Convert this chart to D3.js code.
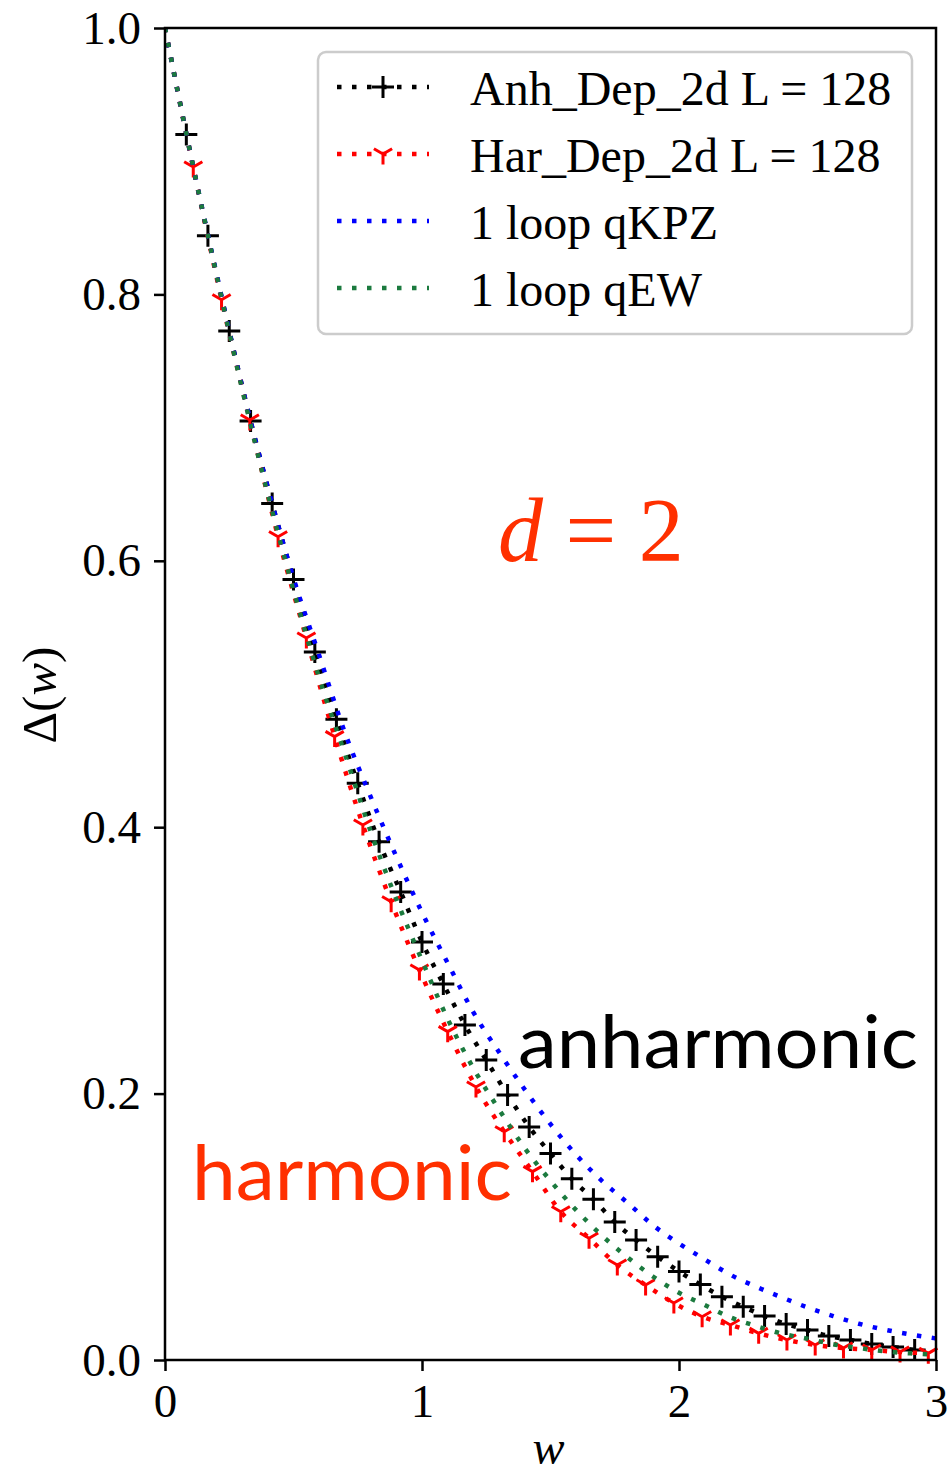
<!DOCTYPE html>
<html>
<head>
<meta charset="utf-8">
<script src="https://cdn.jsdelivr.net/npm/d3@7"></script>
<style>
  body { margin: 0; background: #fff; }
  svg { display: block; }
</style>
</head>
<body>
<svg id="chart" width="948" height="1479"></svg>
<script>
// values
const anhW = [0, 0.083, 0.167, 0.25, 0.333, 0.417, 0.5, 0.583, 0.667, 0.75, 0.833, 0.917, 1.0, 1.083, 1.167, 1.25, 1.333, 1.417, 1.5, 1.583, 1.667, 1.75, 1.833, 1.917, 2.0, 2.083, 2.167, 2.25, 2.333, 2.417, 2.5, 2.583, 2.667, 2.75, 2.833, 2.917]
const anhD = [1.0, 0.920, 0.844, 0.7725, 0.705, 0.643, 0.586, 0.5315, 0.481, 0.433, 0.389, 0.3514, 0.3138, 0.2823, 0.2515, 0.2252, 0.199, 0.175, 0.155, 0.136, 0.1206, 0.1036, 0.090, 0.0775, 0.0665, 0.0566, 0.0475, 0.040, 0.033, 0.027, 0.0225, 0.018, 0.015, 0.012, 0.0098, 0.0075]

const harW = [0, 0.11, 0.22, 0.33, 0.44, 0.55, 0.66, 0.77, 0.88, 0.99, 1.10, 1.21, 1.32, 1.43, 1.54, 1.65, 1.76, 1.87, 1.98, 2.09, 2.20, 2.31, 2.42, 2.53, 2.64, 2.75, 2.86, 2.97]
const harD = [1.0, 0.8956, 0.796, 0.7057, 0.618, 0.542, 0.468, 0.4017, 0.344, 0.2928, 0.2465, 0.205, 0.1714, 0.1414, 0.1113, 0.0914, 0.0713, 0.0563, 0.0428, 0.0325, 0.0263, 0.020, 0.015, 0.0113, 0.009, 0.0075, 0.006, 0.005]

const loopW = [0, 0.1, 0.2, 0.3, 0.4, 0.5, 0.6, 0.7, 0.8, 0.9, 1.0, 1.1, 1.2, 1.3, 1.4, 1.5, 1.6, 1.7, 1.8, 1.9, 2.0, 2.1, 2.2, 2.3, 2.4, 2.5, 2.6, 2.7, 2.8, 2.9, 3.0]
const qkpzD = [1.0, 0.905, 0.816, 0.731, 0.655, 0.587, 0.529, 0.471, 0.423, 0.378, 0.336, 0.298, 0.261, 0.231, 0.203, 0.177, 0.154, 0.1345, 0.118, 0.101, 0.0875, 0.0755, 0.064, 0.055, 0.047, 0.0395, 0.033, 0.0272, 0.0228, 0.0192, 0.0162]
const qewD = [1.0, 0.905, 0.815, 0.729, 0.650, 0.578, 0.512, 0.455, 0.397, 0.346, 0.300, 0.256, 0.219, 0.188, 0.159, 0.1345, 0.1125, 0.0935, 0.077, 0.0625, 0.0505, 0.0413, 0.032, 0.0255, 0.0198, 0.016, 0.0118, 0.009, 0.0065, 0.005, 0.004]

const xTicks = [0, 1, 2, 3]
const yTicks = [0, 0.2, 0.4, 0.6, 0.8, 1.0]
const legendLabels = ['Anh_Dep_2d L = 128', 'Har_Dep_2d L = 128', '1 loop qKPZ', '1 loop qEW']

const serif = "'Liberation Serif', 'Times New Roman', serif"
const sans = "Lato, 'Open Sans', sans-serif"
const green = '#1b7a3e'
const orange = '#ff3000'

const svg = d3.select('#chart')
const plotL = 165, plotR = 936, plotT = 28, plotB = 1360

const x = d3.scaleLinear().domain([0, 3]).range([plotL, plotR])
const y = d3.scaleLinear().domain([0, 1]).range([plotB, plotT])

svg.append('rect').attr('width', 948).attr('height', 1479).attr('fill', '#fff')

// series: line + marker, same order as plotted
const series = [
  {w: anhW, d: anhD, color: 'black', marker: 'plus'},
  {w: harW, d: harD, color: 'red', marker: 'tri'},
  {w: loopW, d: qkpzD, color: 'blue', marker: null},
  {w: loopW, d: qewD, color: green, marker: null},
]

const plusPath = 'M-11,0H11M0,-11V11'
const triPath = 'M0,0V10.5M0,0L-9.1,-5.25M0,0L9.1,-5.25'

svg.append('clipPath').attr('id', 'clip')
  .append('rect').attr('x', plotL).attr('y', plotT - 4).attr('width', plotR - plotL + 4).attr('height', plotB - plotT + 4)

const line = d3.line()
  .x(p => x(p[0]))
  .y(p => y(p[1]))
  .curve(d3.curveMonotoneX)

const plot = svg.append('g')

series.forEach(s => {
  const pts = s.w.map((w, i) => [w, s.d[i]])
  plot.append('path')
    .attr('d', line(pts))
    .attr('fill', 'none')
    .attr('stroke', s.color)
    .attr('stroke-width', 4.5)
    .attr('stroke-dasharray', '4.5,10.5')
    .attr('clip-path', 'url(#clip)')
  if (s.marker) {
    plot.selectAll(null)
      .data(pts.slice(1))
      .join('path')
      .attr('transform', p => `translate(${x(p[0])},${y(p[1])})`)
      .attr('d', s.marker === 'plus' ? plusPath : triPath)
      .attr('fill', 'none')
      .attr('stroke', s.color)
      .attr('stroke-width', 3)
  }
})

// axes
const xAxis = d3.axisBottom(x).tickValues(xTicks).tickFormat(d3.format('d')).tickSize(11).tickPadding(12)
const yAxis = d3.axisLeft(y).tickValues(yTicks).tickFormat(d3.format('.1f')).tickSize(11).tickPadding(13)

const gx = svg.append('g').attr('transform', `translate(0,${plotB})`).call(xAxis)
const gy = svg.append('g').attr('transform', `translate(${plotL},0)`).call(yAxis)
;[gx, gy].forEach(g => {
  g.attr('font-family', serif).attr('font-size', 47)
  g.select('.domain').remove()
  g.selectAll('line').attr('stroke', 'black').attr('stroke-width', 2.5)
  g.selectAll('text').attr('fill', 'black')
})
gx.selectAll('text').attr('dy', '0.72em')

svg.append('rect')
  .attr('x', plotL).attr('y', plotT)
  .attr('width', plotR - plotL).attr('height', plotB - plotT)
  .attr('fill', 'none').attr('stroke', 'black').attr('stroke-width', 2.5)

// axis labels
svg.append('text')
  .attr('x', (plotL + plotR) / 2 - 2).attr('y', 1464)
  .attr('text-anchor', 'middle')
  .attr('font-family', serif).attr('font-style', 'italic').attr('font-size', 48)
  .text('w')

const ylab = svg.append('text')
  .attr('transform', 'translate(56,695) rotate(-90)')
  .attr('text-anchor', 'middle')
  .attr('font-family', serif).attr('font-size', 49)
ylab.append('tspan').text('Δ(')
ylab.append('tspan').attr('font-style', 'italic').text('w')
ylab.append('tspan').text(')')

// annotations
const dlab = svg.append('text')
  .attr('x', 591).attr('y', 561)
  .attr('text-anchor', 'middle')
  .attr('font-family', serif).attr('font-size', 90).attr('fill', orange)
dlab.append('tspan').attr('font-style', 'italic').text('d')
dlab.append('tspan').text(' = 2')

svg.append('text')
  .attr('x', 518).attr('y', 1068)
  .attr('font-family', sans).attr('font-size', 74)
  .attr('textLength', 400).attr('lengthAdjust', 'spacingAndGlyphs')
  .attr('fill', 'black')
  .text('anharmonic')

svg.append('text')
  .attr('x', 192).attr('y', 1200)
  .attr('font-family', sans).attr('font-size', 76)
  .attr('textLength', 320).attr('lengthAdjust', 'spacingAndGlyphs')
  .attr('fill', orange)
  .text('harmonic')

// legend
const legend = svg.append('g')
legend.append('rect')
  .attr('x', 318).attr('y', 52).attr('width', 594).attr('height', 282)
  .attr('rx', 8).attr('ry', 8)
  .attr('fill', 'white').attr('fill-opacity', 0.8)
  .attr('stroke', '#cccccc').attr('stroke-width', 2.5)

const rowY = [87, 154, 221, 288]
series.forEach((s, i) => {
  const ly = rowY[i]
  legend.append('line')
    .attr('x1', 337).attr('x2', 429).attr('y1', ly).attr('y2', ly)
    .attr('stroke', s.color).attr('stroke-width', 4.5)
    .attr('stroke-dasharray', '4.5,10.5')
  if (s.marker) {
    legend.append('path')
      .attr('transform', `translate(383,${ly})`)
      .attr('d', s.marker === 'plus' ? plusPath : triPath)
      .attr('fill', 'none').attr('stroke', s.color).attr('stroke-width', 3)
  }
  legend.append('text')
    .attr('x', 470).attr('y', ly + 18)
    .attr('font-family', serif).attr('font-size', 48)
    .text(legendLabels[i])
})
</script>
</body>
</html>
